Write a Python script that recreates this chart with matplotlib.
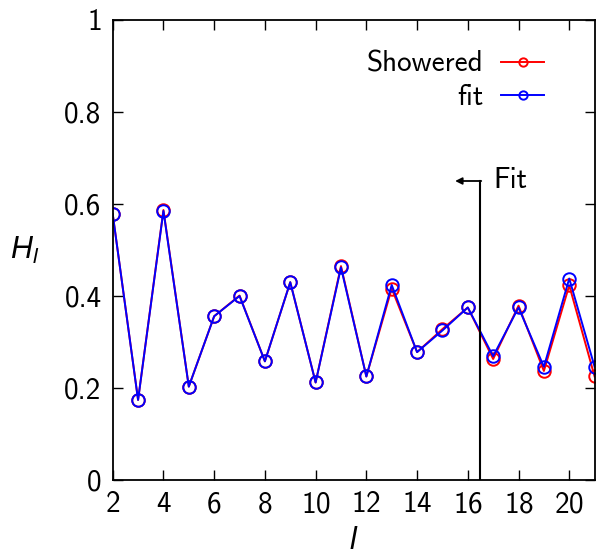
import matplotlib
matplotlib.use("Agg")
import matplotlib.pyplot as plt

plt.rcParams['font.family'] = ['cmss10', 'DejaVu Sans']
plt.rcParams['mathtext.fontset'] = 'custom'
plt.rcParams['mathtext.it'] = 'Liberation Sans:italic'
plt.rcParams['mathtext.rm'] = 'Liberation Sans'
plt.rcParams['axes.formatter.use_mathtext'] = True

l_values = list(range(2, 22))
showered = [0.578, 0.174, 0.587, 0.203, 0.356, 0.401, 0.258, 0.430, 0.212, 0.465,
            0.225, 0.416, 0.278, 0.328, 0.375, 0.263, 0.379, 0.237, 0.423, 0.225]
fit = [0.578, 0.174, 0.585, 0.203, 0.356, 0.400, 0.258, 0.430, 0.212, 0.462,
       0.225, 0.424, 0.278, 0.325, 0.375, 0.269, 0.375, 0.246, 0.438, 0.246]
x_ticks = [2, 4, 6, 8, 10, 12, 14, 16, 18, 20]
y_ticks = [0, 0.2, 0.4, 0.6, 0.8, 1]
y_tick_labels = ["0", "0.2", "0.4", "0.6", "0.8", "1"]
fit_boundary = 16.5
fit_arrow_height = 0.65
fit_arrow_end = 15.5

fig = plt.figure(figsize=(5.97, 5.54), dpi=100)
ax = fig.add_axes([0.1888, 0.1336, 0.8072, 0.8303])

ax.plot(l_values, showered, color='red', lw=1.4, marker='o', ms=9,
        mfc='none', mec='red', mew=1.4, label='Showered')
ax.plot(l_values, fit, color='blue', lw=1.4, marker='o', ms=9,
        mfc='none', mec='blue', mew=1.4, label='fit')

# Boundary of the fitted range
ax.plot([fit_boundary, fit_boundary], [0, fit_arrow_height], color='black', lw=1.5)
ax.annotate('', xy=(fit_arrow_end, fit_arrow_height),
            xytext=(fit_boundary + 0.03, fit_arrow_height),
            arrowprops=dict(arrowstyle='-|>', color='black', lw=1.3,
                            mutation_scale=10, shrinkA=0, shrinkB=0))
ax.text(17.0, fit_arrow_height, 'Fit', fontsize=21, va='center', ha='left')

ax.set_xlim(2, 21)
ax.set_ylim(0, 1)
ax.set_xticks(x_ticks)
ax.set_yticks(y_ticks)
ax.set_yticklabels(y_tick_labels)
ax.tick_params(direction='in', top=True, right=True, labelsize=21,
               length=7, width=1, pad=8)
for s in ax.spines.values():
    s.set_linewidth(1.3)

ax.set_xlabel(r'$l$', fontsize=22)
ax.xaxis.set_label_coords(0.5, -0.105)
ax.set_ylabel(r'$H_l$', fontsize=22, rotation=0)
ax.yaxis.set_label_coords(-0.183, 0.465)

leg = ax.legend(loc='upper right', bbox_to_anchor=(0.92, 0.958), frameon=False,
                markerfirst=False, fontsize=21, handlelength=1.5,
                handletextpad=0.6, labelspacing=0.22, borderaxespad=0)
for t in leg.get_texts():
    t.set_ha('right')
for h in leg.legend_handles:
    h.set_markersize(6)

fig.savefig('out.png', dpi=100)
